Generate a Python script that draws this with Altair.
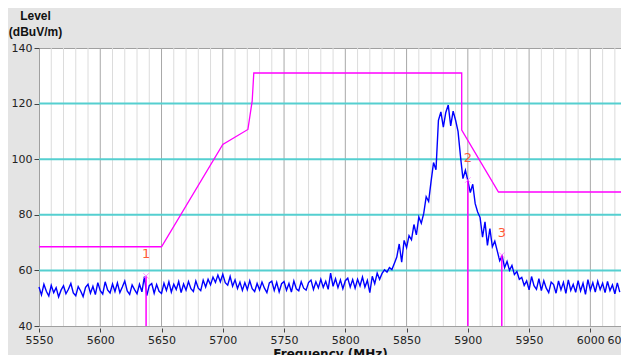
import altair as alt
import pandas as pd

# ---------------- data ----------------
trace_start = 5550      # MHz, first trace sample
trace_step = 2          # MHz between trace samples
trace_levels = [
    54.0, 51.2, 55.0, 52.5, 50.8, 54.6, 52.0, 53.8, 50.5, 52.9,   # 5550-5568
    54.5, 51.6, 53.2, 55.3, 51.9, 50.9, 54.2, 52.6, 50.6, 53.9,   # 5570-5588
    55.0, 51.8, 54.3, 51.3, 55.6, 52.7, 51.5, 55.9, 53.0, 51.9,   # 5590-5608
    55.1, 52.4, 55.5, 52.0, 54.0, 56.2, 52.6, 51.4, 54.8, 53.1,   # 5610-5628
    51.6, 55.0, 52.3, 57.8, 50.9, 54.5, 55.3, 51.8, 54.9, 52.5,   # 5630-5648
    51.7, 55.4, 52.8, 55.9, 52.2, 55.0, 53.1, 56.0, 52.0, 55.1,   # 5650-5668
    52.9, 56.0, 53.4, 52.4, 56.2, 53.6, 52.7, 56.5, 54.0, 56.8,   # 5670-5688
    54.8, 57.6, 55.7, 58.3, 55.9, 58.6, 55.6, 54.7, 57.8, 54.3,   # 5690-5708
    56.6, 53.5, 55.8, 52.8, 55.6, 53.1, 56.3, 53.4, 52.4, 55.3,   # 5710-5728
    53.0, 55.8, 53.6, 52.0, 55.5, 56.1, 52.8, 55.7, 52.3, 55.2,   # 5730-5748
    56.0, 52.9, 55.3, 52.2, 56.2, 53.4, 52.7, 55.9, 53.6, 52.9,   # 5750-5768
    55.6, 56.5, 53.1, 55.9, 53.7, 56.8, 53.9, 56.1, 53.2, 59.0,   # 5770-5788
    54.3, 57.0, 53.8, 56.6, 53.4, 56.3, 57.2, 54.0, 56.7, 53.6,   # 5790-5808
    56.8, 54.4, 57.6, 54.0, 56.4, 52.0, 57.9, 55.2, 59.0, 56.8,   # 5810-5828
    58.9, 60.2, 59.4, 61.0, 60.3, 62.5, 64.8, 69.5, 63.0, 70.8,   # 5830-5848
    68.2, 72.5, 71.0, 76.5, 72.8, 79.2, 77.0, 80.5, 86.5, 84.8,   # 5850-5868
    92.0, 98.8, 96.2, 114.0, 117.0, 111.5, 116.8, 119.5, 112.0, 117.3,  # 5870-5888
    114.0, 110.0, 101.0, 93.0, 96.0, 92.3, 88.0, 91.0, 84.0, 81.0,      # 5890-5908
    79.0, 72.0, 77.5, 69.0, 75.0, 68.5, 70.5, 67.0, 63.5, 65.2,   # 5910-5928
    61.0, 63.2, 60.0, 61.8, 58.5, 59.6, 56.8, 57.5, 54.6, 56.2,   # 5930-5948
    53.0, 57.8, 54.5, 53.2, 57.0, 52.7, 56.3, 53.6, 52.0, 55.8,   # 5950-5968
    54.9, 51.8, 56.2, 53.0, 55.7, 51.7, 56.6, 52.8, 55.0, 52.1,   # 5970-5988
    56.3, 52.6, 55.4, 51.4, 56.7, 52.9, 55.6, 52.2, 56.1, 53.1,   # 5990-6008
    55.4, 52.0, 56.0, 52.7, 54.8, 51.6, 55.5, 52.2,               # 6010-6024
]

limit_freq = [5550, 5650, 5700, 5720.5, 5724, 5725.3, 5895, 5895, 5925, 6025]
limit_level = [68.5, 68.5, 105.3, 110.7, 121.0, 131.0, 131.0, 110.5, 88.2, 88.2]

marker_freq = [5637.4, 5900.0, 5927.7]
marker_level = [58.0, 92.5, 65.5]
marker_label = ["1", "2", "3"]

x_ticks = [5550, 5600, 5650, 5700, 5750, 5800, 5850, 5900, 5950, 6000, 6025]
y_ticks = [40, 60, 80, 100, 120, 140]
minor_grid = [f for f in range(5560, 6025, 10) if f % 50 != 0]
major_grid = [5600, 5650, 5700, 5750, 5800, 5850, 5900, 5950, 6000]
cyan_grid = [60, 80, 100, 120]

# ---------------- tables ----------------
trace_df = pd.DataFrame({
    "freq": [trace_start + trace_step * i for i in range(len(trace_levels))],
    "level": trace_levels,
})
limit_df = pd.DataFrame({"freq": limit_freq, "level": limit_level,
                         "order": list(range(len(limit_freq)))})
marker_df = pd.DataFrame({"freq": marker_freq, "level": marker_level,
                          "label": marker_label, "base": [40] * len(marker_freq)})
minor_df = pd.DataFrame({"freq": minor_grid})
major_df = pd.DataFrame({"freq": major_grid})
cyan_df = pd.DataFrame({"level": cyan_grid})

FONT = "DejaVu Sans"
TFONT = "Liberation Sans"
x_scale = alt.Scale(domain=[5550, 6025], nice=False, zero=False)
y_scale = alt.Scale(domain=[40, 140], nice=False, zero=False)

x_axis = alt.Axis(values=x_ticks, grid=False, domain=False, tickSize=4, offset=2,
                  tickColor="#444444", labelColor="#222222", labelFont=FONT,
                  labelFontSize=11, labelPadding=2, labelOverlap=False,
                  labelBound=False, labelFlush=False, format="d",
                  title="Frequency (MHz)", titleFont=FONT, titleFontSize=12,
                  titleFontWeight="bold", titleColor="#111111", titlePadding=3)
y_axis = alt.Axis(values=y_ticks, grid=False, domain=False, tickSize=5,
                  tickColor="#444444", labelColor="#222222", labelFont=FONT,
                  labelFontSize=11, labelPadding=2, format="d",
                  title=["Level", "(dBuV/m)"], titleFont=TFONT, titleFontSize=12,
                  titleFontWeight="bold", titleColor="#111111", titleAngle=0,
                  titleAlign="center", titleBaseline="top", titleX=-4,
                  titleY=-38, titleLineHeight=16)

minor = alt.Chart(minor_df).mark_rule(color="#dcdcdc", strokeWidth=1).encode(
    x=alt.X("freq:Q", scale=x_scale, axis=x_axis))
major = alt.Chart(major_df).mark_rule(color="#a8a8a8", strokeWidth=1).encode(
    x=alt.X("freq:Q", scale=x_scale))
cyan = alt.Chart(cyan_df).mark_rule(color="#55cfd0", strokeWidth=2).encode(
    y=alt.Y("level:Q", scale=y_scale, axis=y_axis))

limit = alt.Chart(limit_df).mark_line(color="#ff00ff", strokeWidth=1.3).encode(
    x=alt.X("freq:Q", scale=x_scale),
    y=alt.Y("level:Q", scale=y_scale),
    order="order:Q")

trace = alt.Chart(trace_df).mark_line(color="#0000ff", strokeWidth=1.4).encode(
    x=alt.X("freq:Q", scale=x_scale),
    y=alt.Y("level:Q", scale=y_scale))

mrules = alt.Chart(marker_df).mark_rule(color="#ff00ff", strokeWidth=1.5).encode(
    x=alt.X("freq:Q", scale=x_scale),
    y=alt.Y("base:Q", scale=y_scale),
    y2="level:Q")

crosses = alt.Chart(marker_df).mark_point(
    shape="M-1,-1L1,1M-1,1L1,-1", color="#ff66ff", size=30, strokeWidth=1,
    filled=False).encode(
    x=alt.X("freq:Q", scale=x_scale),
    y=alt.Y("level:Q", scale=y_scale))

labels = alt.Chart(marker_df).mark_text(
    color="#ff5a36", font=FONT, fontSize=13, dy=-22, baseline="middle",
    align="center").encode(
    x=alt.X("freq:Q", scale=x_scale),
    y=alt.Y("level:Q", scale=y_scale),
    text="label:N")

chart = alt.layer(minor, major, cyan, limit, trace, mrules, crosses, labels).properties(
    width=582, height=278,
    autosize=alt.AutoSizeParams(type="none"),
    padding={"left": 31, "top": 40, "right": 0, "bottom": 29},
).configure(background="#e4e4e4").configure_view(
    fill="white", stroke="#a0a0a0", strokeWidth=1)

chart.save("out.html", embed_options={"renderer": "svg", "actions": False})
